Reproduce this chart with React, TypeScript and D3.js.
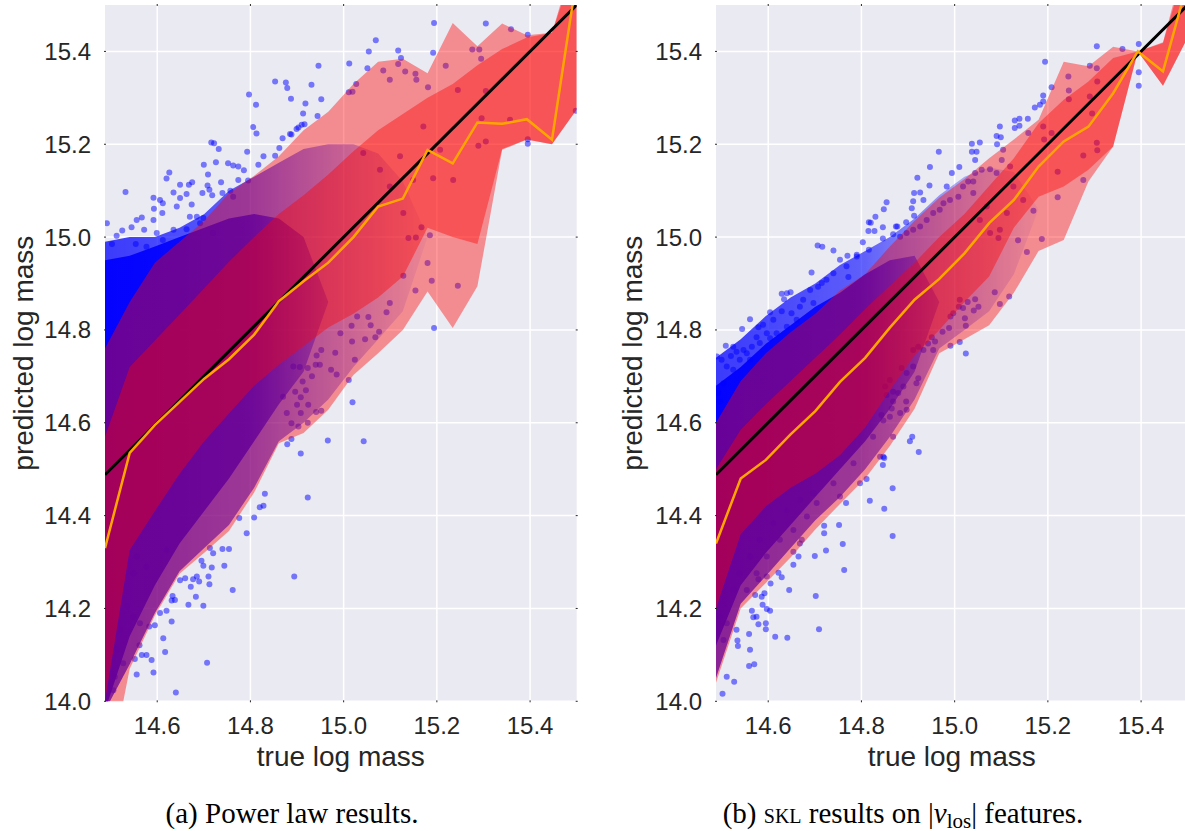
import React from "react";
import * as d3 from "d3";

// ---------- shared axes ----------
const X_DOMAIN: [number, number] = [14.488, 15.5];
const Y_DOMAIN: [number, number] = [14.0, 15.5];
const X_TICKS = [14.6, 14.8, 15.0, 15.2, 15.4];
const Y_TICKS = [14.0, 14.2, 14.4, 14.6, 14.8, 15.0, 15.2, 15.4];

// bin centres (true log mass) for the running median and percentile bands
const BIN_X = [14.488, 14.541, 14.595, 14.648, 14.701, 14.754, 14.808, 14.861, 14.914, 14.967,
  15.021, 15.074, 15.127, 15.18, 15.234, 15.287, 15.34, 15.393, 15.447, 15.5];

// ---------- (a) power law ----------
const POWER_MEDIAN = [14.33, 14.535, 14.595, 14.645, 14.695, 14.737, 14.79, 14.862, 14.905, 14.945,
  15.0, 15.066, 15.083, 15.188, 15.159, 15.247, 15.244, 15.254, 15.21, 15.56];
const POWER_OUTER_LO = [13.8, 14.07, 14.185, 14.275, 14.32, 14.367, 14.45, 14.556, 14.578, 14.628,
  14.703, 14.75, 14.8, 14.883, 14.804, 14.894, 15.188, 15.21, 15.2, 15.275];
const POWER_OUTER_HI = [14.76, 14.86, 14.945, 14.99, 15.035, 15.095, 15.132, 15.174, 15.23, 15.27,
  15.33, 15.378, 15.384, 15.353, 15.461, 15.411, 15.46, 15.435, 15.44, 15.62];
const POWER_INNER_LO = [14.0, 14.326, 14.41, 14.49, 14.56, 14.62, 14.68, 14.725, 14.765, 14.805,
  14.835, 14.87, 14.915, 15.02, 15.0, 14.985, 15.19, 15.21, 15.2, 15.275];
const POWER_INNER_HI = [14.57, 14.72, 14.777, 14.833, 14.89, 14.947, 15.0, 15.05, 15.09, 15.135,
  15.185, 15.23, 15.265, 15.3, 15.33, 15.37, 15.405, 15.43, 15.44, 15.6];

// envelope of the densest part of the halo cloud (overlapping points saturate)
const POWER_CORE_X = [14.488, 14.541, 14.595, 14.648, 14.701, 14.754, 14.808, 14.861, 14.914, 14.967];
const POWER_CORE_LO = [13.98, 14.14, 14.25, 14.34, 14.41, 14.48, 14.56, 14.64, 14.71, 14.86];
const POWER_CORE_HI = [14.95, 14.96, 14.98, 15.0, 15.02, 15.04, 15.05, 15.04, 15.0, 14.86];
const POWER_HALO_X = [14.488, 14.541, 14.595, 14.648, 14.701, 14.754, 14.808, 14.861, 14.914, 14.967,
  15.021, 15.074, 15.127, 15.18];
const POWER_HALO_LO = [13.98, 14.08, 14.19, 14.28, 14.33, 14.38, 14.46, 14.56, 14.6, 14.65,
  14.72, 14.78, 14.84, 15.0];
const POWER_HALO_HI = [14.99, 15.0, 15.0, 15.02, 15.05, 15.1, 15.13, 15.16, 15.19, 15.2,
  15.2, 15.18, 15.12, 15.0];

// individual haloes outside the dense core: [true, predicted]
const POWER_POINTS: [number, number][] = [
  [14.853, 15.335], [14.876, 15.333], [14.879, 15.321], [14.887, 15.298], [14.797, 15.307], [14.812, 15.285],
  [14.806, 15.237], [14.813, 15.223], [14.716, 15.204], [14.722, 15.202], [14.732, 15.19], [14.793, 15.184],
  [14.7, 15.156], [14.726, 15.161], [14.752, 15.159], [14.763, 15.154], [14.774, 15.152], [14.786, 15.144],
  [14.817, 15.156], [14.828, 15.174], [14.853, 15.175], [14.862, 15.192], [14.869, 15.213], [14.888, 15.221],
  [14.899, 15.233], [14.626, 15.139], [14.62, 15.126], [14.649, 15.113], [14.668, 15.113], [14.675, 15.118],
  [14.709, 15.135], [14.708, 15.111], [14.737, 15.118], [14.74, 15.095], [14.757, 15.1], [14.795, 15.122],
  [14.532, 15.097], [14.592, 15.085], [14.606, 15.08], [14.612, 15.073], [14.635, 15.096], [14.663, 15.093],
  [14.697, 15.095], [14.712, 15.102], [14.718, 15.09], [14.611, 15.052], [14.593, 15.061], [14.649, 15.084],
  [14.674, 15.07], [14.685, 15.044], [14.699, 15.041], [14.492, 15.03], [14.513, 15.003], [14.525, 15.014],
  [14.545, 15.021], [14.556, 15.037], [14.567, 15.042], [14.592, 15.037], [14.572, 15.016], [14.599, 15.009],
  [14.635, 15.016], [14.663, 15.017], [14.692, 15.03], [14.67, 15.044], [14.642, 15.066], [14.503, 14.985],
  [14.554, 14.985], [14.577, 14.979], [14.612, 14.994], [14.72, 15.009], [14.763, 15.087], [14.774, 15.123],
  [15.194, 15.461], [15.305, 15.46], [15.069, 15.424], [15.054, 15.4], [15.117, 15.402], [15.123, 15.386],
  [15.192, 15.397], [15.012, 15.374], [15.051, 15.364], [14.946, 15.369], [14.931, 15.328], [14.952, 15.297],
  [14.918, 15.288], [15.027, 15.33], [15.011, 15.312], [15.019, 15.313], [14.913, 15.266], [14.944, 15.261],
  [14.903, 15.236], [14.91, 15.242], [14.916, 15.243], [14.885, 15.222], [15.359, 15.448], [15.395, 15.436],
  [15.276, 15.404], [15.291, 15.404], [15.295, 15.384], [15.219, 15.369], [15.395, 15.211], [15.395, 15.201],
  [15.498, 15.272],
  [15.085, 15.359], [15.099, 15.339], [15.117, 15.373], [15.132, 15.357], [15.154, 15.352], [15.156, 15.339],
  [15.181, 15.323], [15.245, 15.317], [15.305, 15.315], [15.289, 15.197], [15.305, 15.206], [15.296, 15.256],
  [15.357, 15.253], [15.192, 15.127], [15.185, 15.004], [15.167, 15.021], [15.139, 14.998], [15.155, 14.999],
  [15.128, 15.052], [15.099, 15.109], [15.078, 15.145], [15.042, 15.181], [15.171, 15.238], [15.207, 15.188],
  [15.121, 15.174], [15.149, 15.123], [15.235, 15.123],
  [15.194, 14.804], [15.019, 14.644], [15.011, 14.692], [14.966, 14.562], [15.043, 14.56], [14.908, 14.534],
  [14.879, 14.554], [14.888, 14.565], [14.923, 14.439], [14.894, 14.269],
  [15.18, 14.944], [15.189, 14.906], [15.245, 14.895], [15.154, 14.885], [15.128, 14.917], [15.099, 14.858],
  [15.092, 14.838], [15.053, 14.828], [15.029, 14.829], [15.058, 14.81], [15.017, 14.809], [14.993, 14.793],
  [15.076, 14.796], [15.068, 14.784], [15.046, 14.78], [15.018, 14.775], [15.024, 14.736], [14.982, 14.751],
  [14.952, 14.757], [14.942, 14.745], [14.94, 14.725], [14.923, 14.718], [14.906, 14.72], [14.892, 14.721],
  [14.949, 14.725], [14.973, 14.714], [14.985, 14.704], [14.932, 14.7], [14.912, 14.689], [14.919, 14.67],
  [14.896, 14.667], [14.908, 14.655], [14.87, 14.656], [14.9, 14.639], [14.924, 14.639], [14.941, 14.623],
  [14.952, 14.626], [14.908, 14.621], [14.878, 14.621], [14.903, 14.592], [14.923, 14.6], [14.888, 14.599],
  [14.792, 14.362], [14.808, 14.396], [14.82, 14.418], [14.828, 14.421], [14.831, 14.447], [14.776, 14.395],
  [14.754, 14.328], [14.74, 14.328], [14.72, 14.319], [14.713, 14.33], [14.744, 14.292], [14.717, 14.288],
  [14.695, 14.303], [14.699, 14.292], [14.71, 14.269], [14.685, 14.269], [14.677, 14.263], [14.66, 14.265],
  [14.649, 14.261], [14.712, 14.252], [14.69, 14.258], [14.672, 14.247], [14.762, 14.24], [14.683, 14.225],
  [14.633, 14.227], [14.631, 14.217], [14.638, 14.218], [14.667, 14.208], [14.699, 14.206], [14.62, 14.195],
  [14.606, 14.19], [14.595, 14.164], [14.583, 14.161], [14.631, 14.172], [14.613, 14.136], [14.617, 14.106],
  [14.562, 14.121], [14.567, 14.1], [14.577, 14.1], [14.588, 14.089], [14.552, 14.091], [14.592, 14.062],
  [14.556, 14.058], [14.707, 14.083], [14.64, 14.019],
  [14.535, 14.204], [14.549, 14.182], [14.563, 14.168], [14.52, 14.154], [14.513, 14.111], [14.527, 14.082],
  [14.509, 14.053], [14.506, 14.024], [14.577, 14.29], [14.549, 14.276], [14.556, 14.312], [14.62, 14.326],
];

// ---------- (b) SKL on |v_los| ----------
const SKL_MEDIAN = [14.34, 14.48, 14.52, 14.575, 14.625, 14.688, 14.74, 14.805, 14.865, 14.91,
  14.965, 15.03, 15.08, 15.152, 15.206, 15.238, 15.31, 15.4, 15.357, 15.55];
const SKL_OUTER_LO = [14.04, 14.2, 14.255, 14.31, 14.37, 14.425, 14.48, 14.55, 14.63, 14.75,
  14.78, 14.81, 14.88, 14.97, 14.994, 15.12, 15.195, 15.4, 15.326, 15.43];
const SKL_OUTER_HI = [14.6, 14.69, 14.75, 14.795, 14.835, 14.885, 14.92, 14.98, 15.035, 15.085,
  15.125, 15.17, 15.21, 15.253, 15.378, 15.368, 15.41, 15.4, 15.42, 15.62];
const SKL_INNER_LO = [14.2, 14.36, 14.42, 14.46, 14.49, 14.53, 14.59, 14.67, 14.745, 14.8,
  14.86, 14.915, 15.02, 15.087, 15.109, 15.145, 15.195, 15.4, 15.326, 15.43];
const SKL_INNER_HI = [14.5, 14.585, 14.64, 14.69, 14.74, 14.79, 14.845, 14.895, 14.945, 15.0,
  15.05, 15.11, 15.17, 15.245, 15.296, 15.335, 15.386, 15.4, 15.418, 15.6];

const SKL_CORE_X = [14.488, 14.541, 14.595, 14.648, 14.701, 14.754, 14.808, 14.861, 14.914, 14.967];
const SKL_CORE_LO = [14.12, 14.25, 14.32, 14.38, 14.44, 14.5, 14.56, 14.63, 14.71, 14.86];
const SKL_CORE_HI = [14.68, 14.72, 14.77, 14.81, 14.85, 14.88, 14.92, 14.95, 14.96, 14.86];
const SKL_HALO_X = [14.488, 14.541, 14.595, 14.648, 14.701, 14.754, 14.808, 14.861, 14.914, 14.967,
  15.021, 15.074, 15.127, 15.18];
const SKL_HALO_LO = [14.05, 14.21, 14.27, 14.33, 14.39, 14.44, 14.5, 14.57, 14.65, 14.76,
  14.8, 14.84, 14.92, 15.06];
const SKL_HALO_HI = [14.74, 14.78, 14.83, 14.87, 14.9, 14.94, 14.97, 15.0, 15.04, 15.09,
  15.13, 15.15, 15.14, 15.06];

const SKL_POINTS: [number, number][] = [
  [14.854, 15.075], [14.848, 15.06], [14.83, 15.044], [14.816, 15.032], [14.82, 15.031], [14.846, 15.021],
  [14.815, 15.013], [14.828, 15.013], [14.874, 15.023], [14.846, 14.997], [14.803, 14.989], [14.706, 14.982],
  [14.716, 14.979], [14.74, 14.971], [14.77, 14.96], [14.79, 14.962], [14.816, 14.973], [14.868, 15.006],
  [15.305, 15.411], [15.395, 15.416], [15.36, 15.405], [15.194, 15.378], [15.29, 15.369], [15.395, 15.355],
  [15.395, 15.326], [15.208, 15.323], [15.19, 15.305], [15.244, 15.346], [15.245, 15.316], [15.245, 15.297],
  [15.305, 15.364], [15.306, 15.335], [15.29, 15.303], [15.295, 15.266], [15.19, 15.292], [15.172, 15.279],
  [15.183, 15.285], [15.157, 15.255], [15.139, 15.255], [15.129, 15.251], [15.139, 15.24], [15.129, 15.235],
  [15.097, 15.238], [15.09, 15.218], [15.099, 15.215], [15.091, 15.2], [15.054, 15.204], [15.037, 15.201],
  [15.037, 15.184], [15.047, 15.184], [15.044, 15.166], [14.966, 15.184], [15.01, 15.151], [14.994, 15.138],
  [14.947, 15.151], [14.92, 15.128], [14.946, 15.111], [14.983, 15.109], [14.913, 15.095], [14.926, 15.096],
  [14.933, 15.08], [14.911, 15.077], [14.908, 15.062], [14.913, 15.046], [14.877, 15.023], [14.896, 15.032],
  [15.158, 15.224], [15.19, 15.238], [15.208, 15.224], [15.192, 15.21], [15.305, 15.203], [15.306, 15.187],
  [15.276, 15.176], [15.221, 15.141], [15.276, 15.123], [15.221, 15.086], [15.169, 15.057], [15.187, 14.996],
  [15.136, 14.993], [15.119, 15.152], [15.104, 15.188], [15.101, 15.166], [15.09, 15.138], [15.076, 15.146],
  [15.058, 15.145], [15.044, 15.138], [15.04, 15.12], [15.029, 15.12], [15.018, 15.109], [15.04, 15.095],
  [15.008, 15.087], [14.99, 15.08], [14.976, 15.073], [14.968, 15.059], [14.954, 15.052], [14.94, 15.037],
  [14.926, 15.023], [14.911, 15.016], [14.897, 15.009], [14.883, 15.001], [15.126, 15.109], [15.147, 15.08],
  [15.112, 15.052], [15.097, 15.016], [15.076, 15.009], [15.054, 15.037], [15.069, 15.066], [15.094, 14.998],
  [15.155, 14.968], [15.086, 14.881], [15.117, 14.872], [15.097, 14.856], [15.044, 14.866], [15.051, 14.85],
  [15.041, 14.842], [15.028, 14.86], [15.018, 14.847], [15.011, 14.865], [15.009, 14.85], [14.997, 14.836],
  [14.991, 14.829], [15.022, 14.825], [15.024, 14.809], [14.988, 14.804], [14.974, 14.796], [14.951, 14.784],
  [14.958, 14.775], [14.943, 14.771], [14.954, 14.757], [14.933, 14.757], [14.922, 14.764], [14.911, 14.757],
  [14.911, 14.721], [14.886, 14.718], [14.897, 14.707], [14.922, 14.696], [14.918, 14.685], [14.861, 14.692],
  [14.851, 14.678], [14.89, 14.678], [14.868, 14.667], [14.879, 14.664], [14.854, 14.66], [14.868, 14.646],
  [14.896, 14.646], [14.865, 14.631], [14.897, 14.628], [14.883, 14.621], [14.843, 14.617], [14.847, 14.605],
  [14.991, 14.766], [15.011, 14.774], [15.024, 14.749], [14.909, 14.57], [14.904, 14.56], [14.923, 14.537],
  [14.849, 14.524], [14.846, 14.509], [14.867, 14.459], [14.849, 14.415], [14.867, 14.356],
  [14.818, 14.432], [14.767, 14.427], [14.76, 14.339], [14.763, 14.283], [14.752, 14.38], [14.72, 14.362],
  [14.724, 14.325], [14.72, 14.378], [14.7, 14.313], [14.702, 14.227], [14.709, 14.155], [14.668, 14.34],
  [14.672, 14.348], [14.665, 14.312], [14.654, 14.322], [14.654, 14.294], [14.645, 14.24], [14.629, 14.267],
  [14.622, 14.277], [14.615, 14.139], [14.641, 14.137], [14.597, 14.199], [14.604, 14.195], [14.595, 14.168],
  [14.595, 14.155], [14.579, 14.166], [14.575, 14.182], [14.588, 14.208], [14.586, 14.225], [14.592, 14.233],
  [14.572, 14.229], [14.565, 14.195], [14.568, 14.181], [14.559, 14.145], [14.561, 14.111], [14.559, 14.076],
  [14.57, 14.08], [14.534, 14.131], [14.535, 14.119], [14.532, 14.154], [14.511, 14.053], [14.527, 14.042],
  [14.502, 14.016], [14.579, 14.263], [14.605, 14.254],
  [14.693, 14.924], [14.629, 14.878], [14.64, 14.879], [14.648, 14.881], [14.634, 14.866], [14.604, 14.838],
  [14.629, 14.84], [14.611, 14.822], [14.589, 14.811], [14.579, 14.806], [14.561, 14.823], [14.544, 14.802],
  [14.575, 14.784], [14.597, 14.793], [14.525, 14.764], [14.509, 14.766], [14.532, 14.753], [14.52, 14.744],
  [14.49, 14.743], [14.5, 14.736], [14.511, 14.721], [14.525, 14.714], [14.547, 14.757], [14.561, 14.736],
  [14.504, 14.685], [14.493, 14.664], [14.497, 14.646], [14.707, 14.893], [14.715, 14.901], [14.69, 14.886],
  [14.725, 14.908], [14.74, 14.922], [14.768, 14.937], [14.79, 14.958], [14.754, 14.951], [14.772, 14.914],
  [14.675, 14.865], [14.697, 14.858], [14.668, 14.85], [14.65, 14.836], [14.661, 14.822], [14.64, 14.807],
  [14.618, 14.793], [14.604, 14.782], [14.582, 14.772], [14.565, 14.764], [14.554, 14.75], [14.539, 14.736],
  [14.847, 14.527], [14.811, 14.479], [14.525, 14.24], [14.539, 14.276], [14.561, 14.312], [14.582, 14.348],
  [14.611, 14.384], [14.64, 14.412], [14.668, 14.434], [14.697, 14.448], [14.511, 14.168], [14.504, 14.132],
  [14.497, 14.182], [14.597, 14.312], [14.625, 14.348], [14.575, 14.276], [14.554, 14.24], [14.597, 14.269],
  [14.654, 14.369], [14.683, 14.398], [14.74, 14.47], [14.783, 14.513], [14.825, 14.57], [14.861, 14.613],
  [14.704, 14.427], [14.797, 14.47], [14.84, 14.527], [14.868, 14.57], [14.754, 14.441],
];

// ---------- layout ----------
const W = 1185;
const H = 831;
const PLOT_TOP = 5;
const PLOT_BOTTOM = 701.3;
const PLOT_W = 471.7;
const INK = "#262626";
const SANS = "'Liberation Sans', Arial, Helvetica, sans-serif";
const SERIF = "'Liberation Serif', 'Times New Roman', serif";

interface PanelSpec {
  id: string;
  left: number;
  yLabelX: number;
  median: number[];
  outerLo: number[];
  outerHi: number[];
  innerLo: number[];
  innerHi: number[];
  coreX: number[];
  coreLo: number[];
  coreHi: number[];
  haloX: number[];
  haloLo: number[];
  haloHi: number[];
  points: [number, number][];
}

function Panel({ s }: { s: PanelSpec }) {
  const x = d3.scaleLinear().domain(X_DOMAIN).range([s.left, s.left + PLOT_W]);
  const y = d3.scaleLinear().domain(Y_DOMAIN).range([PLOT_BOTTOM, PLOT_TOP]);
  const fmt = d3.format(".1f");

  const band = (xs: number[], lo: number[], hi: number[]) =>
    d3
      .area<number>()
      .x((v) => x(v))
      .y0((_, i) => y(lo[i]))
      .y1((_, i) => y(hi[i]))(xs) ?? "";

  const medianPath =
    d3
      .line<number>()
      .x((_, i) => x(BIN_X[i]))
      .y((v) => y(v))(s.median) ?? "";
  const identityPath =
    d3
      .line<number>()
      .x((v) => x(v))
      .y((v) => y(v))(X_DOMAIN) ?? "";

  const [x0, x1] = x.range();
  const clipId = `clip-${s.id}`;
  const haloGrad = `halo-${s.id}`;
  const coreGrad = `core-${s.id}`;
  const midX = (x0 + x1) / 2;
  const midY = (PLOT_TOP + PLOT_BOTTOM) / 2;
  const haloEnd = s.haloX[s.haloX.length - 1];
  const coreEnd = s.coreX[s.coreX.length - 1];

  return (
    <g>
      <defs>
        <clipPath id={clipId}>
          <rect x={x0} y={PLOT_TOP} width={x1 - x0} height={PLOT_BOTTOM - PLOT_TOP} />
        </clipPath>
        {/* point density thins out towards the high-mass end */}
        <linearGradient id={haloGrad} gradientUnits="userSpaceOnUse" x1={x(s.haloX[0])} x2={x(haloEnd)} y1={0} y2={0}>
          <stop offset="0" stopColor="rgb(0,0,255)" stopOpacity={0.75} />
          <stop offset="0.45" stopColor="rgb(0,0,255)" stopOpacity={0.6} />
          <stop offset="0.75" stopColor="rgb(0,0,255)" stopOpacity={0.3} />
          <stop offset="1" stopColor="rgb(0,0,255)" stopOpacity={0.05} />
        </linearGradient>
        <linearGradient id={coreGrad} gradientUnits="userSpaceOnUse" x1={x(s.coreX[0])} x2={x(coreEnd)} y1={0} y2={0}>
          <stop offset="0" stopColor="rgb(0,0,255)" stopOpacity={0.95} />
          <stop offset="0.65" stopColor="rgb(0,0,255)" stopOpacity={0.85} />
          <stop offset="1" stopColor="rgb(0,0,255)" stopOpacity={0.35} />
        </linearGradient>
      </defs>
      <rect x={x0} y={PLOT_TOP} width={x1 - x0} height={PLOT_BOTTOM - PLOT_TOP} fill="#EAEAF2" />
      {X_TICKS.map((t) => (
        <line key={`gx${t}`} x1={x(t)} x2={x(t)} y1={PLOT_TOP} y2={PLOT_BOTTOM} stroke="#fff" strokeWidth={1.5} />
      ))}
      {Y_TICKS.map((t) => (
        <line key={`gy${t}`} x1={x0} x2={x1} y1={y(t)} y2={y(t)} stroke="#fff" strokeWidth={1.5} />
      ))}
      <g clipPath={`url(#${clipId})`}>
        <path d={band(s.haloX, s.haloLo, s.haloHi)} fill={`url(#${haloGrad})`} />
        <path d={band(s.coreX, s.coreLo, s.coreHi)} fill={`url(#${coreGrad})`} />
        {s.points.map(([px, py], i) => (
          <circle key={i} cx={x(px)} cy={y(py)} r={3} fill="rgb(0,0,255)" fillOpacity={0.5} />
        ))}
        <path d={band(BIN_X, s.outerLo, s.outerHi)} fill="rgb(255,0,0)" fillOpacity={0.4} />
        <path d={band(BIN_X, s.innerLo, s.innerHi)} fill="rgb(255,0,0)" fillOpacity={0.4} />
        <path d={identityPath} fill="none" stroke="#000" strokeWidth={3} />
        <path d={medianPath} fill="none" stroke="#FFA500" strokeWidth={2.5} strokeLinejoin="miter" />
      </g>
      {/* small tick marks on the frame */}
      {X_TICKS.map((t) => (
        <g key={`tx${t}`} stroke={INK} strokeWidth={1}>
          <line x1={x(t)} x2={x(t)} y1={PLOT_TOP - 1} y2={PLOT_TOP + 1} />
          <line x1={x(t)} x2={x(t)} y1={PLOT_BOTTOM - 1} y2={PLOT_BOTTOM + 1} />
        </g>
      ))}
      {Y_TICKS.map((t) => (
        <g key={`ty${t}`} stroke={INK} strokeWidth={1}>
          <line x1={x0 - 1} x2={x0 + 1} y1={y(t)} y2={y(t)} />
          <line x1={x1 - 1} x2={x1 + 1} y1={y(t)} y2={y(t)} />
        </g>
      ))}
      {X_TICKS.map((t) => (
        <text key={`lx${t}`} x={x(t)} y={PLOT_BOTTOM + 33} textAnchor="middle" fontFamily={SANS} fontSize={24} fill={INK}>
          {fmt(t)}
        </text>
      ))}
      {Y_TICKS.map((t) => (
        <text key={`ly${t}`} x={x0 - 14} y={y(t)} dy="0.35em" textAnchor="end" fontFamily={SANS} fontSize={24} fill={INK}>
          {fmt(t)}
        </text>
      ))}
      <text x={midX} y={766} textAnchor="middle" fontFamily={SANS} fontSize={28} fill={INK}>
        true log mass
      </text>
      <text
        transform={`translate(${s.yLabelX},${midY}) rotate(-90)`}
        textAnchor="middle"
        fontFamily={SANS}
        fontSize={28}
        fill={INK}
      >
        predicted log mass
      </text>
    </g>
  );
}

const PANELS: PanelSpec[] = [
  {
    id: "power",
    left: 105,
    yLabelX: 33,
    median: POWER_MEDIAN,
    outerLo: POWER_OUTER_LO,
    outerHi: POWER_OUTER_HI,
    innerLo: POWER_INNER_LO,
    innerHi: POWER_INNER_HI,
    coreX: POWER_CORE_X,
    coreLo: POWER_CORE_LO,
    coreHi: POWER_CORE_HI,
    haloX: POWER_HALO_X,
    haloLo: POWER_HALO_LO,
    haloHi: POWER_HALO_HI,
    points: POWER_POINTS,
  },
  {
    id: "skl",
    left: 716,
    yLabelX: 642,
    median: SKL_MEDIAN,
    outerLo: SKL_OUTER_LO,
    outerHi: SKL_OUTER_HI,
    innerLo: SKL_INNER_LO,
    innerHi: SKL_INNER_HI,
    coreX: SKL_CORE_X,
    coreLo: SKL_CORE_LO,
    coreHi: SKL_CORE_HI,
    haloX: SKL_HALO_X,
    haloLo: SKL_HALO_LO,
    haloHi: SKL_HALO_HI,
    points: SKL_POINTS,
  },
];

export default function App() {
  return (
    <svg
      width={W}
      height={H}
      viewBox={`0 0 ${W} ${H}`}
      style={{ position: "absolute", left: 0, top: 0, background: "#fff" }}
    >
      <rect x={0} y={0} width={W} height={H} fill="#fff" />
      {PANELS.map((p) => (
        <Panel key={p.id} s={p} />
      ))}
      <text x={292} y={823} textAnchor="middle" fontFamily={SERIF} fontSize={29} fill="#000">
        (a) Power law results.
      </text>
      <text x={903} y={823} textAnchor="middle" fontFamily={SERIF} fontSize={29} fill="#000">
        (b) <tspan style={{ fontVariant: "small-caps" }}>skl</tspan> results on |<tspan fontStyle="italic">v</tspan>
        <tspan fontSize={21} dy={5}>los</tspan>
        <tspan dy={-5}>| features.</tspan>
      </text>
    </svg>
  );
}
